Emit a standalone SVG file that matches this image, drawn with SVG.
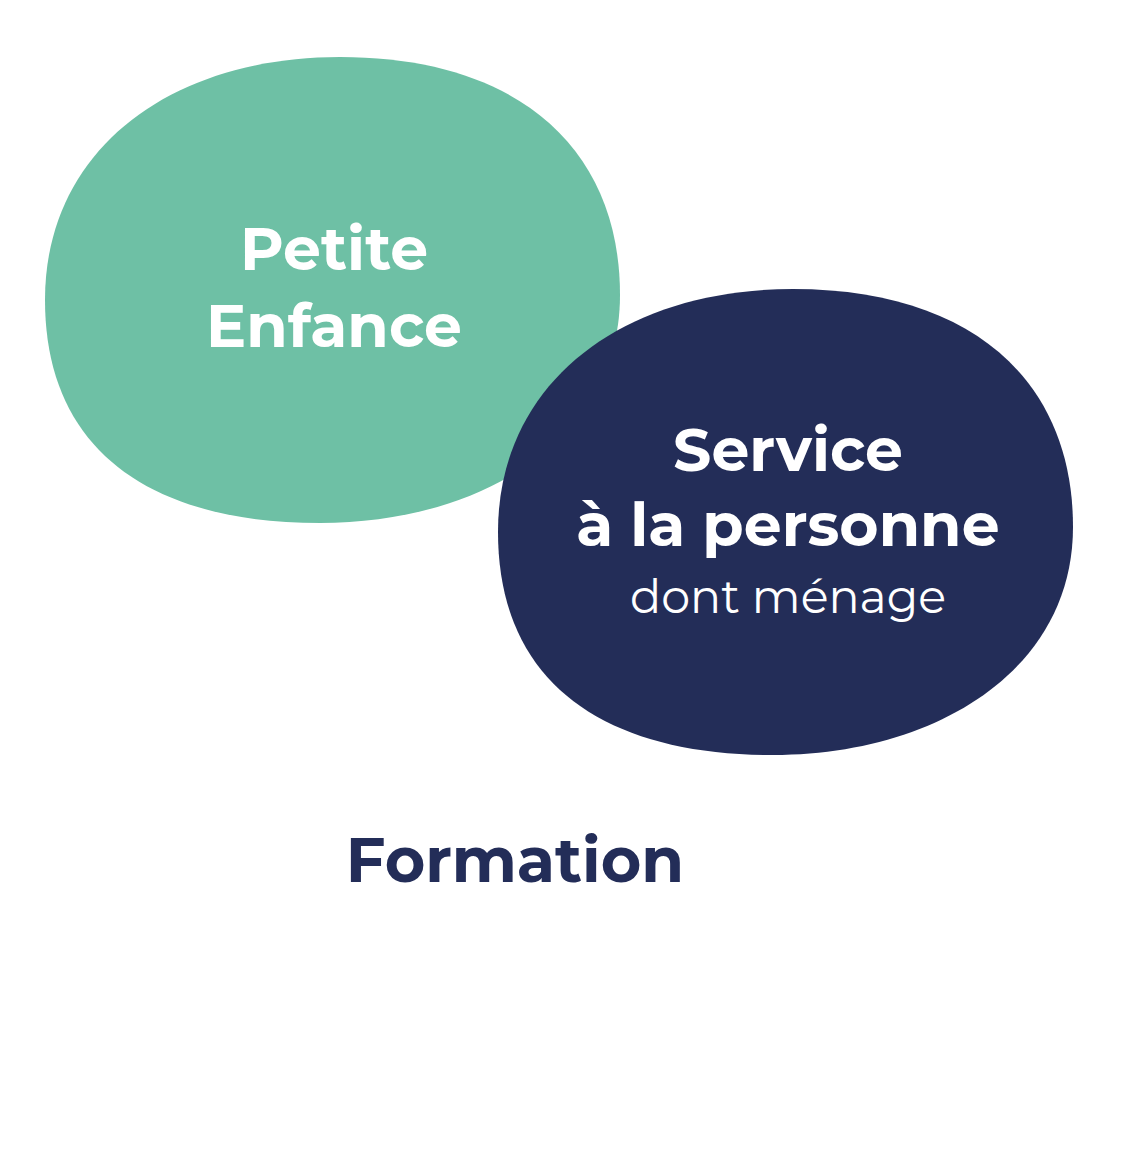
<svg xmlns="http://www.w3.org/2000/svg" width="1136" height="1161" viewBox="0 0 1136 1161">
<style>
.t{font-family:"Montserrat","Noto Sans","Open Sans",sans-serif;text-anchor:middle}
.b{font-weight:700}
.w{fill:#ffffff}
</style>
<rect width="1136" height="1161" fill="#ffffff"/>
<g id="petite-enfance">
<path d="M340,57 C520,57 620,150 620,295 C620,440 480,523 320,523 C150,523 45,450 45,300 C45,150 170,57 340,57 Z" fill="#6ec0a5"/>
<text class="t b w" x="334" y="270" font-size="60">Petite</text>
<text class="t b w" x="334" y="347" font-size="60">Enfance</text>
</g>
<g id="service-personne">
<path d="M793,289 C973,289 1073,382 1073,527 C1073,672 933,755 773,755 C603,755 498,682 498,532 C498,382 623,289 793,289 Z" fill="#232d58"/>
<text class="t b w" x="788" y="471" font-size="60">Service</text>
<text class="t b w" x="788" y="546" font-size="60">à la personne</text>
<text class="t w" x="788" y="613" font-size="46">dont ménage</text>
</g>
<g id="formation">
<text class="t b" x="515" y="882" font-size="62" fill="#232d58">Formation</text>
</g>
<g id="connectors"/>
</svg>
